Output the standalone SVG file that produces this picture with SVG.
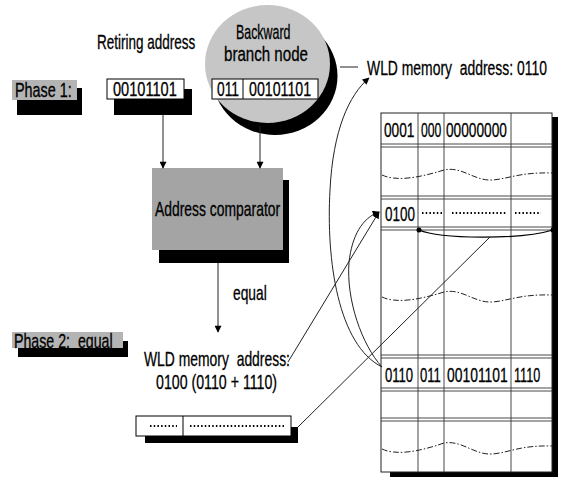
<svg xmlns="http://www.w3.org/2000/svg" width="563" height="477" viewBox="0 0 563 477">
<defs>
<marker id="ah" viewBox="0 0 10 10" refX="9" refY="5" markerWidth="8" markerHeight="7" markerUnits="userSpaceOnUse" orient="auto"><path d="M0,0 L10,5 L0,10 z" fill="#000"/></marker>
<style>
text{font-family:"Liberation Sans",Arial,sans-serif;fill:#000;font-size:20px;stroke:#000;stroke-width:0.3}
.big{font-size:21px}
.sh{fill:#000}
.box{fill:#fff;stroke:#000;stroke-width:1}
.grey{fill:#b4b4b4}
.ln{fill:none;stroke:#222;stroke-width:1}
.thin{fill:none;stroke:#333;stroke-width:0.9}
.dots{stroke:#000;stroke-width:2;stroke-dasharray:1.5,2.2}
.wave{fill:none;stroke:#222;stroke-width:1;stroke-dasharray:6,2,1.5,2}
</style>
</defs>
<rect width="563" height="477" fill="#fff"/>

<g id="phase1">
<rect class="sh" x="17" y="88" width="65" height="27"/>
<rect class="grey" x="12" y="80" width="65" height="20"/>
<text transform="translate(15,97) scale(0.72,1)">Phase 1:</text>
</g>

<g id="retiring">
<text transform="translate(97,49) scale(0.675,1)">Retiring address</text>
<rect class="sh" x="114" y="89" width="78" height="26"/>
<rect class="box" x="107" y="79" width="77" height="20"/>
<text transform="translate(113,96) scale(0.73,1)">00101101</text>
</g>

<g id="backward">
<ellipse cx="275" cy="76" rx="62.5" ry="59" fill="#000"/>
<ellipse cx="267.5" cy="64" rx="62.5" ry="59" fill="#c6c6c6"/>
<text transform="translate(236,39) scale(0.62,1)">Backward</text>
<text transform="translate(224,61) scale(0.755,1)">branch node</text>
<rect class="box" x="212" y="79" width="106" height="20"/>
<line x1="243" y1="79" x2="243" y2="99" stroke="#000"/>
<text transform="translate(217,96) scale(0.69,1)">011</text>
<text transform="translate(249,96) scale(0.71,1)">00101101</text>
</g>

<g id="wld-label">
<text xml:space="preserve" transform="translate(367,75) scale(0.696,1)">WLD memory  address: 0110</text>
</g>

<g id="comparator">
<rect class="sh" x="159" y="180" width="130" height="83"/>
<rect x="152" y="168" width="131" height="82" fill="#a4a4a4"/>
<text transform="translate(155,216) scale(0.695,1)">Address comparator</text>
</g>

<g id="equal-label">
<text transform="translate(233,300) scale(0.69,1)">equal</text>
</g>

<g id="phase2">
<rect class="sh" x="18" y="341" width="110" height="16"/>
<rect class="grey" x="12" y="332" width="111" height="16"/>
<text xml:space="preserve" transform="translate(14,348) scale(0.71,1)">Phase 2:  equal</text>
</g>

<g id="wld-result">
<text xml:space="preserve" transform="translate(144,366) scale(0.695,1)">WLD memory  address:</text>
<text transform="translate(156,389) scale(0.71,1)">0100 (0110 + 1110)</text>
<rect class="sh" x="145" y="427" width="153" height="16"/>
<rect class="box" x="136" y="416" width="155" height="20"/>
<line x1="183" y1="416" x2="183" y2="436" stroke="#000"/>
<line class="dots" x1="150" y1="426" x2="177" y2="426"/>
<line class="dots" x1="190" y1="426" x2="286" y2="426"/>
</g>

<g id="table">
<rect class="sh" x="552" y="117" width="6" height="360"/>
<rect class="sh" x="390" y="472" width="168" height="5"/>
<rect x="381" y="113" width="171" height="359" fill="#fff" stroke="#222" stroke-width="1"/>
<g class="thin">
<line x1="418" y1="113" x2="418" y2="472"/>
<line x1="444" y1="113" x2="444" y2="472"/>
<line x1="511" y1="113" x2="511" y2="472"/>
<line x1="381" y1="144" x2="552" y2="144"/>
<line x1="381" y1="147" x2="552" y2="147"/>
<line x1="381" y1="196" x2="552" y2="196"/>
<line x1="381" y1="199" x2="552" y2="199"/>
<line x1="381" y1="227" x2="552" y2="227"/>
<line x1="381" y1="230" x2="552" y2="230"/>
<line x1="381" y1="355" x2="552" y2="355"/>
<line x1="381" y1="358" x2="552" y2="358"/>
<line x1="381" y1="388" x2="552" y2="388"/>
<line x1="381" y1="391" x2="552" y2="391"/>
<line x1="381" y1="418" x2="552" y2="418"/>
<line x1="381" y1="421" x2="552" y2="421"/>
</g>
<path class="wave" d="M382,175 C395,181 415,179 444,170 C462,166 474,181 492,180 C508,179 520,172 552,173"/>
<path class="wave" d="M382,297 C395,303 415,301 444,292 C462,288 474,303 492,302 C508,301 520,294 552,295"/>
<path class="wave" d="M382,449 C395,455 415,453 444,443 C462,440 474,455 492,454 C508,453 520,445 552,446"/>
<text transform="translate(384,137) scale(0.685,1)">0001</text>
<text transform="translate(421,137) scale(0.61,1)">000</text>
<text transform="translate(446,137) scale(0.685,1)">00000000</text>
<text class="big" transform="translate(385,221) scale(0.64,1)">0100</text>
<line class="dots" x1="422" y1="213" x2="444" y2="213"/>
<line class="dots" x1="452" y1="213" x2="506" y2="213"/>
<line class="dots" x1="515" y1="213" x2="541" y2="213"/>
<text transform="translate(385,382) scale(0.655,1)">0110</text>
<text transform="translate(420,382) scale(0.655,1)">011</text>
<text transform="translate(447,382) scale(0.695,1)">00101101</text>
<text transform="translate(514,382) scale(0.63,1)">1110</text>
<path d="M419,230 C440,239 520,240 553,230" fill="none" stroke="#000" stroke-width="1.3"/>
<circle cx="419" cy="230" r="2.5" fill="#000"/>
<circle cx="553" cy="230" r="2.5" fill="#000"/>
</g>

<g id="connectors">
<line class="ln" x1="163" y1="115" x2="163" y2="168" marker-end="url(#ah)"/>
<line class="ln" x1="260" y1="126" x2="260" y2="168" marker-end="url(#ah)"/>
<line class="ln" x1="218" y1="263" x2="218" y2="332" marker-end="url(#ah)"/>
<line class="ln" x1="340" y1="67" x2="358" y2="67"/>
<path class="ln" d="M382,367 C338,345 326,260 330,190 C333,130 349,95 369,78" marker-end="url(#ah)"/>
<path class="ln" d="M382,367 C362,345 346,300 349,262 C352,236 362,218 379,212" marker-end="url(#ah)"/>
<line class="ln" x1="288" y1="362" x2="379" y2="212" marker-end="url(#ah)"/>
<line class="ln" x1="298" y1="427" x2="490" y2="237"/>
</g>
</svg>
